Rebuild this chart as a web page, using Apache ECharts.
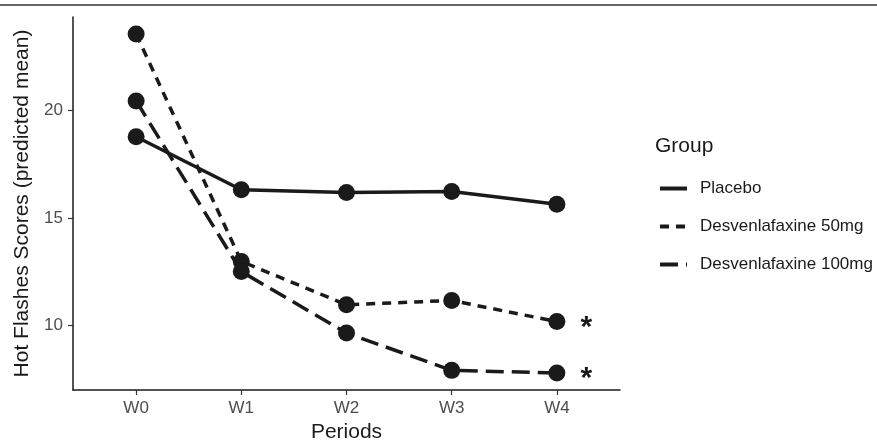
<!DOCTYPE html>
<html>
<head>
<meta charset="utf-8">
<script src="https://cdn.jsdelivr.net/npm/echarts@6/dist/echarts.min.js"></script>
<style>
  html, body { margin: 0; padding: 0; background: #fff; }
  #chart { width: 877px; height: 442px; }
</style>
</head>
<body>
<div id="chart"></div>
<script>
// periods (x categories)
var periods = ['W0', 'W1', 'W2', 'W3', 'W4'];
// predicted means
var placebo = [18.76, 16.30, 16.17, 16.22, 15.63];
var desv50 = [23.52, 12.98, 10.97, 11.17, 10.19];
var desv100 = [20.42, 12.51, 9.66, 7.93, 7.81];
var yTicks = [10, 15, 20];
// significance marks shown after the last period
var sig50 = ['', '', '', '', '*'];
var sig100 = ['', '', '', '', '*'];

var ink = '#1a1a1a';
var fontFam = '"Liberation Sans", Arial, Helvetica, sans-serif';

function toPairs(vals) {
    return vals.map(function (v, i) { return [i, v]; });
}

function mkSeries(name, vals, dash, marks) {
    return {
        name: name,
        type: 'line',
        data: toPairs(vals),
        symbol: 'circle',
        symbolSize: 17,
        itemStyle: { color: ink },
        lineStyle: { color: ink, width: 3.5, type: dash },
        label: {
            show: !!marks,
            position: 'right',
            distance: 15,
            offset: [0, 6],
            fontSize: 30,
            fontWeight: 'bold',
            fontFamily: fontFam,
            color: ink,
            formatter: function (p) { return marks ? marks[p.dataIndex] : ''; }
        },
        emphasis: { disabled: true },
        animation: false
    };
}

var myChart = echarts.init(document.getElementById('chart'), null, { renderer: 'canvas' });

var option = {
    backgroundColor: '#fff',
    title: {
        text: 'Group',
        left: 650,
        top: 131,
        textStyle: { fontSize: 21, fontWeight: 'normal', color: ink, fontFamily: fontFam }
    },
    legend: {
        orient: 'vertical',
        left: 653,
        top: 175,
        itemWidth: 27,
        itemHeight: 14,
        itemGap: 21,
        itemStyle: { opacity: 0 },
        lineStyle: { width: 4 },
        textStyle: { fontSize: 17, color: ink, fontFamily: fontFam, padding: [0, 0, 0, 8] },
        data: ['Placebo', 'Desvenlafaxine 50mg', 'Desvenlafaxine 100mg']
    },
    graphic: [{
        type: 'line',
        shape: { x1: 0, y1: 5, x2: 877, y2: 5 },
        style: { stroke: '#333', lineWidth: 1.6 }
    }],
    grid: { left: 73, right: 257, top: 17, bottom: 52, outerBoundsMode: 'none' },
    xAxis: {
        type: 'value',
        min: -0.6,
        max: 4.6,
        name: 'Periods',
        nameLocation: 'middle',
        nameGap: 32,
        nameTextStyle: { fontSize: 21, color: ink, fontFamily: fontFam },
        axisLine: { onZero: false, lineStyle: { color: ink, width: 1.5 } },
        axisTick: { show: true, length: 5, customValues: [0, 1, 2, 3, 4], lineStyle: { color: '#333', width: 1.2 } },
        axisLabel: {
            customValues: [0, 1, 2, 3, 4],
            margin: 10,
            fontSize: 17,
            color: '#4d4d4d',
            fontFamily: fontFam,
            formatter: function (v) { return periods[Math.round(v)]; }
        },
        splitLine: { show: false }
    },
    yAxis: {
        type: 'value',
        min: 7.02,
        max: 24.31,
        name: 'Hot Flashes Scores (predicted mean)',
        nameLocation: 'middle',
        nameGap: 36,
        nameTextStyle: { fontSize: 21, color: ink, fontFamily: fontFam },
        axisLine: { show: true, onZero: false, lineStyle: { color: ink, width: 1.5 } },
        axisTick: { show: true, length: 5, customValues: yTicks, lineStyle: { color: '#333', width: 1.2 } },
        axisLabel: {
            customValues: yTicks,
            margin: 10,
            fontSize: 17,
            color: '#4d4d4d',
            fontFamily: fontFam
        },
        splitLine: { show: false }
    },
    series: [
        mkSeries('Placebo', placebo, 'solid', null),
        mkSeries('Desvenlafaxine 50mg', desv50, [9, 7], sig50),
        mkSeries('Desvenlafaxine 100mg', desv100, [18, 8], sig100)
    ]
};

myChart.setOption(option);
</script>
</body>
</html>
